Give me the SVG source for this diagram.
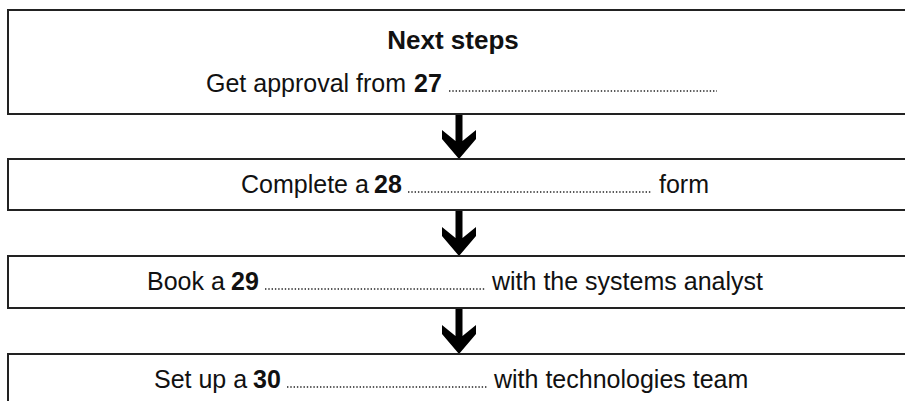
<svg xmlns="http://www.w3.org/2000/svg" width="905" height="401" viewBox="0 0 905 401">
<style>
.box{fill:#fff;stroke:#222;stroke-width:2}
.t{font-family:"Liberation Sans",Arial,sans-serif;font-size:25px;fill:#111}
.b{font-weight:bold}
.dots{stroke:#222;stroke-width:1.6;stroke-dasharray:1.4 1.9}
.arr{fill:#000}
</style>
<defs>
<path id="arrow" d="M-3.5,0 L3.5,0 L3.5,27 L17,16 L17,25 L0,45 L-17,25 L-17,16 L-3.5,27 Z"/>
</defs>
<rect width="905" height="401" fill="#fff"/>
<g id="connectors">
<use href="#arrow" class="arr" transform="translate(459,114)"/>
<use href="#arrow" class="arr" transform="translate(459,211)"/>
<use href="#arrow" class="arr" transform="translate(459,309)"/>
</g>
<g id="node1">
<rect class="box" x="8" y="10" width="910" height="104"/>
<text class="t b" x="453" y="49" text-anchor="middle" style="font-size:26px">Next steps</text>
<text class="t" x="206" y="92">Get approval from</text>
<text class="t b" x="414" y="92">27</text>
<line class="dots" x1="449" y1="91" x2="717" y2="91"/>
</g>
<g id="node2">
<rect class="box" x="8" y="159" width="910" height="51"/>
<text class="t" x="241" y="193">Complete a</text>
<text class="t b" x="374" y="193">28</text>
<line class="dots" x1="408" y1="192" x2="651" y2="192"/>
<text class="t" x="659" y="193">form</text>
</g>
<g id="node3">
<rect class="box" x="8" y="256" width="910" height="52"/>
<text class="t" x="147" y="290">Book a</text>
<text class="t b" x="231" y="290">29</text>
<line class="dots" x1="265" y1="289" x2="485" y2="289"/>
<text class="t" x="492" y="290">with the systems analyst</text>
</g>
<g id="node4">
<rect class="box" x="8" y="354" width="910" height="60"/>
<text class="t" x="154" y="388">Set up a</text>
<text class="t b" x="253" y="388">30</text>
<line class="dots" x1="287" y1="387" x2="487" y2="387"/>
<text class="t" x="494" y="388">with technologies team</text>
</g>
</svg>
